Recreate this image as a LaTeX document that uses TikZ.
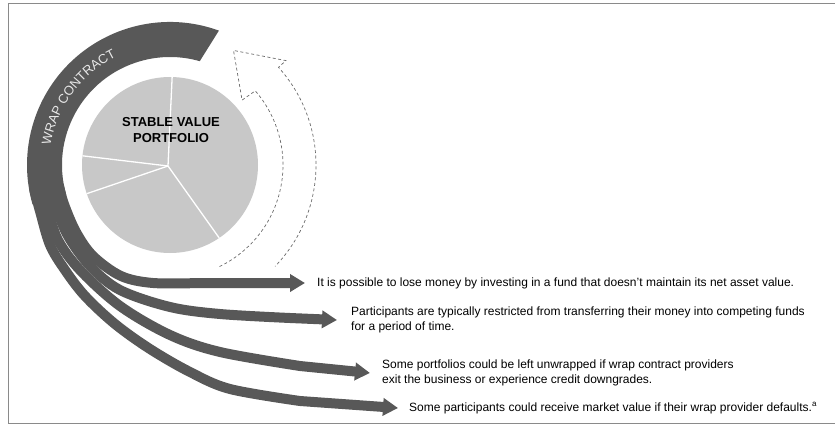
\documentclass[tikz,border=0pt]{standalone}
\usepackage{fontspec}
\setmainfont{Liberation Sans}
\usetikzlibrary{calc,arrows.meta,decorations.text}
\definecolor{ringc}{HTML}{585858}
\definecolor{piec}{HTML}{C8C8C8}
\definecolor{dashc}{HTML}{6A6A6A}
\definecolor{framec}{HTML}{8A8A8A}
\definecolor{wraptext}{HTML}{E8E8E8}
\newcommand\wrapfmt{\color{wraptext}\fontsize{13}{13}\selectfont}
\begin{document}
\begin{tikzpicture}[x=1pt,y=1pt,
  strand/.style={draw=ringc, line width=10pt, line cap=butt,
    -{Triangle[length=15pt,width=17pt]}},
  dasharrow/.style={draw=dashc, line width=0.7pt, dash pattern=on 3pt off 2.5pt},
  note/.style={anchor=west, inner sep=0pt, align=left,
    font=\fontsize{12}{14.5}\selectfont},
  sliceline/.style={draw=white, line width=1.3pt}]
\useasboundingbox (0,0) rectangle (835,-433);
% frame
\draw[framec, line width=0.6pt] (835,-3) -- (8,-3) -- (8,-423) -- (835,-423);
\coordinate (C) at (170,-165);
% pie
\fill[piec] (C) circle[radius=88];
\coordinate (J) at (168,-166);
\draw[sliceline] (J) -- ($(C)+(88.6:88)$);
\draw[sliceline] (J) -- ($(C)+(174:88)$);
\draw[sliceline] (J) -- ($(C)+(199:88)$);
\draw[sliceline] (J) -- ($(C)+(304:88)$);
\node[align=center, inner sep=0pt, font=\bfseries\fontsize{13}{15.5}\selectfont]
  (svp) at (171,-130) {STABLE VALUE\\PORTFOLIO};
% wrap ring
\fill[ringc] ($(C)+(70:143)$) arc[start angle=70, end angle=196, radius=143]
  -- ($(C)+(196:108)$) arc[start angle=196, end angle=74, radius=108] -- cycle;
\path[decorate, decoration={text along path, text align=center,
  text={|\wrapfmt|WRAP CONTRACT}}]
  ($(C)+(178:121)$) arc[start angle=178, end angle=109, radius=121];
% dashed hollow arrow
\draw[dasharrow] ($(C)+(-64:113)$) arc[start angle=-64, end angle=41, radius=113]
  -- ($(C)+(42:97)$) -- ($(C)+(61:131)$) -- ($(C)+(42:156)$)
  -- ($(C)+(42:146)$) arc[start angle=42, end angle=-44, radius=146];
% notes
\node[note] (t1) at (317,-283) {It is possible to lose money by investing in a fund that doesn’t maintain its net asset value.};
\node[note] (t2) at (351,-320) {Participants are typically restricted from transferring their money into competing funds\\for a period of time.};
\node[note] (t3) at (382,-373) {Some portfolios could be left unwrapped if wrap contract providers\\exit the business or experience credit downgrades.};
\node[note] (t4) at (409,-408) {Some participants could receive market value if their wrap provider defaults.\textsuperscript{a}};
% strands
\draw[strand] plot[smooth, tension=0.55] coordinates {(58.7,-184.6) (63.8,-203.6) (76,-232) (93,-256) (121,-276) (153,-283) (200,-283)} -- ([xshift=-12pt]t1.west);
\draw[strand] plot[smooth, tension=0.55] coordinates {(50.3,-186.1) (55.8,-206.6) (68,-236) (90,-266) (120,-290) (170,-307) (220,-314) (290,-318)} -- ([xshift=-14pt]t2.west);
\draw[strand] plot[smooth, tension=0.55] coordinates {(42,-187.6) (47.8,-209.5) (58,-240) (80,-270) (120,-306) (170,-335) (220,-352) (300,-366)} -- ([xshift=-12pt]t3.west);
\draw[strand] plot[smooth, tension=0.55] coordinates {(34.1,-189) (40.3,-212.2) (50,-245) (65,-270) (85,-296) (115,-324) (150,-349) (190,-372) (230,-389) (300,-401)} -- ([xshift=-11pt]t4.west);
\end{tikzpicture}
\end{document}
